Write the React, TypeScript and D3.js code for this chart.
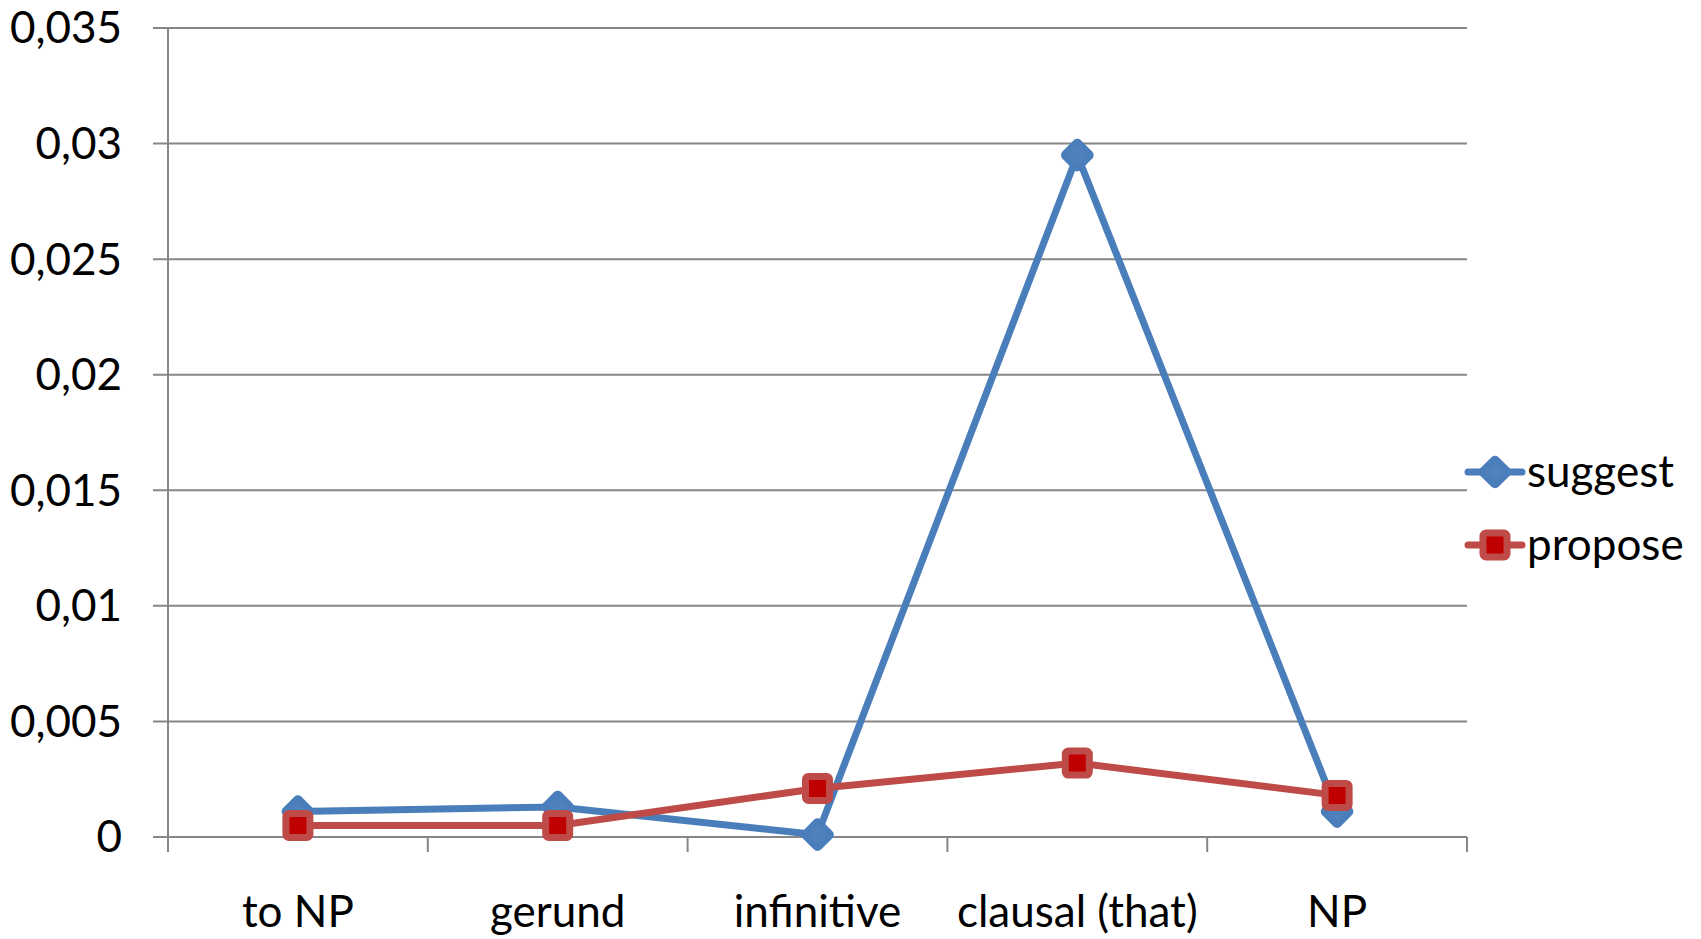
import React from "react";
import * as d3 from "d3";

const categories = ["to NP", "gerund", "infinitive", "clausal (that)", "NP"];
const suggestValues = [0.0011, 0.0013, 0.0001, 0.0295, 0.0011];
const proposeValues = [0.0005, 0.0005, 0.0021, 0.0032, 0.0018];
const yTicks = [0, 0.005, 0.01, 0.015, 0.02, 0.025, 0.03, 0.035];
const seriesNames = ["suggest", "propose"];

const W = 1701;
const H = 939;
const left = 168;
const right = 1467;
const top = 28;
const bottom = 837;
const FONT = "Lato, 'Open Sans', sans-serif";
const FS = 44;

export default function App() {
  const x = d3.scaleBand<string>().domain(categories).range([left, right]);
  const y = d3.scaleLinear().domain([0, 0.035]).range([bottom, top]);
  const cx = (c: string) => (x(c) as number) + x.bandwidth() / 2;
  const line = d3
    .line<number>()
    .x((_, i) => cx(categories[i]))
    .y((v) => y(v));
  const fmt = (v: number) => (v === 0 ? "0" : String(+v.toFixed(3)).replace(".", ","));
  const boundaries = categories.map((c) => x(c) as number).concat([right]);
  const blue = "#4A7EBB";
  const blueFill = "#4F81BD";
  const red = "#BE4B48";
  const redFill = "#C00000";

  const diamond = (px: number, py: number, key: string) => (
    <rect
      key={key}
      x={px - 10}
      y={py - 10}
      width={20}
      height={20}
      rx={2}
      transform={`rotate(45 ${px} ${py})`}
      fill={blueFill}
      stroke={blue}
      strokeWidth={6}
      strokeLinejoin="round"
    />
  );
  const square = (px: number, py: number, key: string) => (
    <rect key={key} x={px - 12} y={py - 12} width={24} height={24} rx={3} fill={redFill} stroke={red} strokeWidth={7} strokeLinejoin="round" />
  );

  return (
    <div style={{ position: "absolute", left: 0, top: 0, background: "#fff" }}>
      <svg width={W} height={H} style={{ display: "block" }}>
        <rect width={W} height={H} fill="#fff" />
        {yTicks.map((t) => (
          <g key={t}>
            <line x1={153} x2={right} y1={y(t)} y2={y(t)} stroke="#868686" strokeWidth={2} />
            <text x={122} y={y(t)} dy="0.35em" textAnchor="end" fontFamily={FONT} fontSize={FS} fill="#000">
              {fmt(t)}
            </text>
          </g>
        ))}
        <line x1={left} x2={left} y1={top} y2={852} stroke="#868686" strokeWidth={2} />
        {boundaries.map((b, i) => (
          <line key={i} x1={b} x2={b} y1={bottom} y2={852} stroke="#868686" strokeWidth={2} />
        ))}
        {categories.map((c) => (
          <text key={c} x={cx(c)} y={927} textAnchor="middle" fontFamily={FONT} fontSize={FS} fill="#000">
            {c}
          </text>
        ))}
        <path d={line(suggestValues) || ""} fill="none" stroke={blue} strokeWidth={7} strokeLinejoin="round" />
        {suggestValues.map((v, i) => diamond(cx(categories[i]), y(v), "s" + i))}
        <path d={line(proposeValues) || ""} fill="none" stroke={red} strokeWidth={7} strokeLinejoin="round" />
        {proposeValues.map((v, i) => square(cx(categories[i]), y(v), "p" + i))}
        {seriesNames.map((name, i) => {
          const ly = 472 + i * 73;
          return (
            <g key={name}>
              <line x1={1468} x2={1522} y1={ly} y2={ly} stroke={i === 0 ? blue : red} strokeWidth={7} strokeLinecap="round" />
              {i === 0 ? diamond(1495, ly, "ld") : square(1495, ly, "ls")}
              <text x={1527} y={ly} dy="0.35em" fontFamily={FONT} fontSize={FS} fill="#000">
                {name}
              </text>
            </g>
          );
        })}
      </svg>
    </div>
  );
}
